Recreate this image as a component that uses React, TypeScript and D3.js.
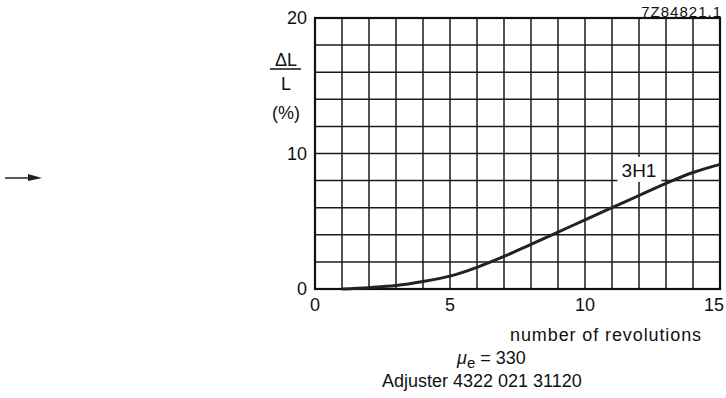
import { useMemo } from "react";
import * as d3 from "d3";

const WIDTH = 726;
const HEIGHT = 398;
const PLOT = { left: 315, right: 720, top: 18, bottom: 289 };

const revolutions = [1, 2, 3, 4, 5, 6, 7, 8, 9, 10, 11, 12, 13, 14, 15];
const deltaL = [0, 0.1, 0.25, 0.55, 0.95, 1.6, 2.4, 3.3, 4.2, 5.1, 6.0, 6.9, 7.8, 8.6, 9.2];
const xTicks = [0, 5, 10, 15];
const yTicks = [0, 10, 20];
const xGrid = d3.range(0, 16, 1);
const yGrid = d3.range(0, 21, 2);

const FONT = "'Liberation Sans', Arial, sans-serif";
const INK = "#111";

const App = () => {
  const xScale = useMemo(
    () => d3.scaleLinear().domain([0, 15]).range([PLOT.left, PLOT.right]),
    []
  );
  const yScale = useMemo(
    () => d3.scaleLinear().domain([0, 20]).range([PLOT.bottom, PLOT.top]),
    []
  );

  const path = useMemo(() => {
    const lineGen = d3
      .line<number>()
      .x((d) => xScale(d))
      .y((_, i) => yScale(deltaL[i]))
      .curve(d3.curveMonotoneX);
    return lineGen(revolutions) ?? "";
  }, [xScale, yScale]);

  return (
    <svg
      width={WIDTH}
      height={HEIGHT}
      style={{ position: "absolute", left: 0, top: 0, background: "#fff" }}
      fontFamily={FONT}
    >
      {/* grid */}
      {xGrid.map((v) => (
        <line
          key={"vx" + v}
          x1={xScale(v)}
          x2={xScale(v)}
          y1={yScale(0)}
          y2={yScale(20)}
          stroke="#1a1a1a"
          strokeWidth={1.5}
        />
      ))}
      {yGrid.map((v) => (
        <line
          key={"hy" + v}
          x1={xScale(0)}
          x2={xScale(15)}
          y1={yScale(v)}
          y2={yScale(v)}
          stroke="#1a1a1a"
          strokeWidth={1.5}
        />
      ))}
      <rect
        x={xScale(0)}
        y={yScale(20)}
        width={xScale(15) - xScale(0)}
        height={yScale(0) - yScale(20)}
        fill="none"
        stroke={INK}
        strokeWidth={2.2}
      />

      {/* curve */}
      <path d={path} fill="none" stroke="#222" strokeWidth={3} />

      {/* curve label */}
      <rect x={xScale(11.2)} y={yScale(9.75)} width={44} height={25} fill="#fff" />
      <text x={xScale(12.0)} y={yScale(9.75) + 20} fontSize={19} textAnchor="middle" fill={INK}>
        3H1
      </text>

      {/* y ticks */}
      {yTicks.map((v) => (
        <text
          key={"yt" + v}
          x={PLOT.left - 8}
          y={yScale(v)}
          dy="0.35em"
          textAnchor="end"
          fontSize={18}
          fill={INK}
        >
          {v}
        </text>
      ))}
      {/* x ticks */}
      {xTicks.map((v) => (
        <text
          key={"xt" + v}
          x={xScale(v) - (v === 15 ? 6 : 0)}
          y={PLOT.bottom + 16}
          dy="0.35em"
          textAnchor="middle"
          fontSize={18}
          fill={INK}
        >
          {v}
        </text>
      ))}

      {/* y axis label */}
      <text x={286} y={66} fontSize={18} textAnchor="middle" fill={INK}>
        ΔL
      </text>
      <line x1={270} x2={301} y1={69} y2={69} stroke={INK} strokeWidth={1.5} />
      <text x={286} y={90} fontSize={18} textAnchor="middle" fill={INK}>
        L
      </text>
      <text x={286} y={119} fontSize={18} textAnchor="middle" fill={INK}>
        (%)
      </text>

      {/* x axis label */}
      <text x={702} y={341} fontSize={18} textAnchor="end" letterSpacing={0.9} fill={INK}>
        number of revolutions
      </text>
      <text x={457} y={364} fontSize={18} fill={INK}>
        <tspan fontStyle="italic">μ</tspan>
        <tspan fontSize={15} dy={4}>e</tspan>
        <tspan dy={-4}> = 330</tspan>
      </text>
      <text x={382} y={387} fontSize={18} fill={INK}>
        Adjuster 4322 021 31120
      </text>

      {/* drawing code */}
      <text x={722} y={17} fontSize={15} textAnchor="end" letterSpacing={1} fill={INK}>
        7Z84821.1
      </text>

      {/* margin arrow */}
      <line x1={5} x2={32} y1={178} y2={178} stroke="#222" strokeWidth={1.5} />
      <path d="M28,174 L42,178 L28,181 Z" fill="#222" />
    </svg>
  );
};

export default App;
